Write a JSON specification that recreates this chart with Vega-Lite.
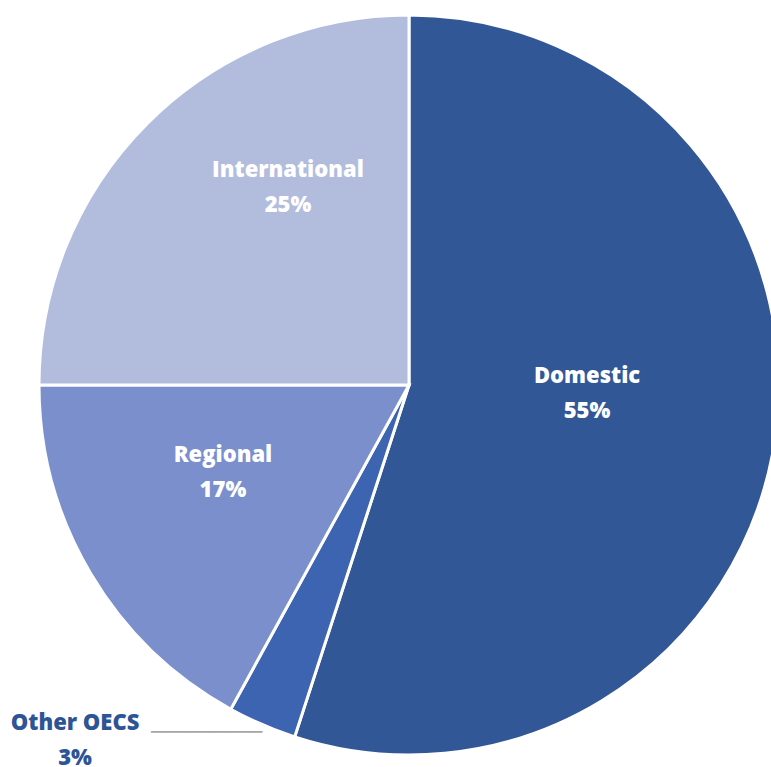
{
  "$schema": "https://vega.github.io/schema/vega-lite/v6.json",
  "width": 818,
  "height": 770,
  "autosize": "none",
  "padding": 0,
  "background": "white",
  "view": {"stroke": null},
  "data": {"values": [
    {"name": "Domestic", "share": 55, "idx": 1},
    {"name": "Other OECS", "share": 3, "idx": 2},
    {"name": "Regional", "share": 17, "idx": 3},
    {"name": "International", "share": 25, "idx": 4}
  ]},
  "encoding": {
    "theta": {"field": "share", "type": "quantitative", "stack": true},
    "order": {"field": "idx", "type": "quantitative", "sort": "ascending"}
  },
  "layer": [
    {
      "mark": {"type": "arc", "outerRadius": 370, "stroke": "white", "strokeWidth": 3},
      "encoding": {
        "color": {
          "field": "name", "type": "nominal",
          "scale": {"domain": ["Domestic", "Other OECS", "Regional", "International"], "range": ["#325797", "#3d64b0", "#7a8fcc", "#b2bcdd"]},
          "legend": null
        }
      }
    },
    {
      "mark": {
        "type": "text", "radius": 200, "font": "Open Sans", "fontSize": 22, "fontWeight": 800,
        "lineBreak": "\n", "lineHeight": 35, "align": "center", "baseline": "middle",
        "text": {"expr": "datum.name + '\\n' + datum.share + '%'"},
        "dx": {"expr": "datum.name === 'Domestic' ? -19.5 : datum.name === 'International' ? 20.4 : datum.name === 'Regional' ? -13.9 : -254.5"},
        "dy": {"expr": "datum.name === 'Domestic' ? -40.3 : datum.name === 'International' ? -73.6 : datum.name === 'Regional' ? -31.8 : 154.6"},
        "fill": {"expr": "datum.name === 'Other OECS' ? '#2d5495' : 'white'"}
      }
    },
    {
      "mark": {
        "type": "text", "radius": 200, "font": "DejaVu Sans Mono", "fontSize": 20.5,
        "align": "center", "baseline": "middle", "fill": "#a6a6a6",
        "text": {"expr": "datum.name === 'Other OECS' ? '─────────' : ''"},
        "dx": -123, "dy": 164.6
      }
    }
  ]
}
